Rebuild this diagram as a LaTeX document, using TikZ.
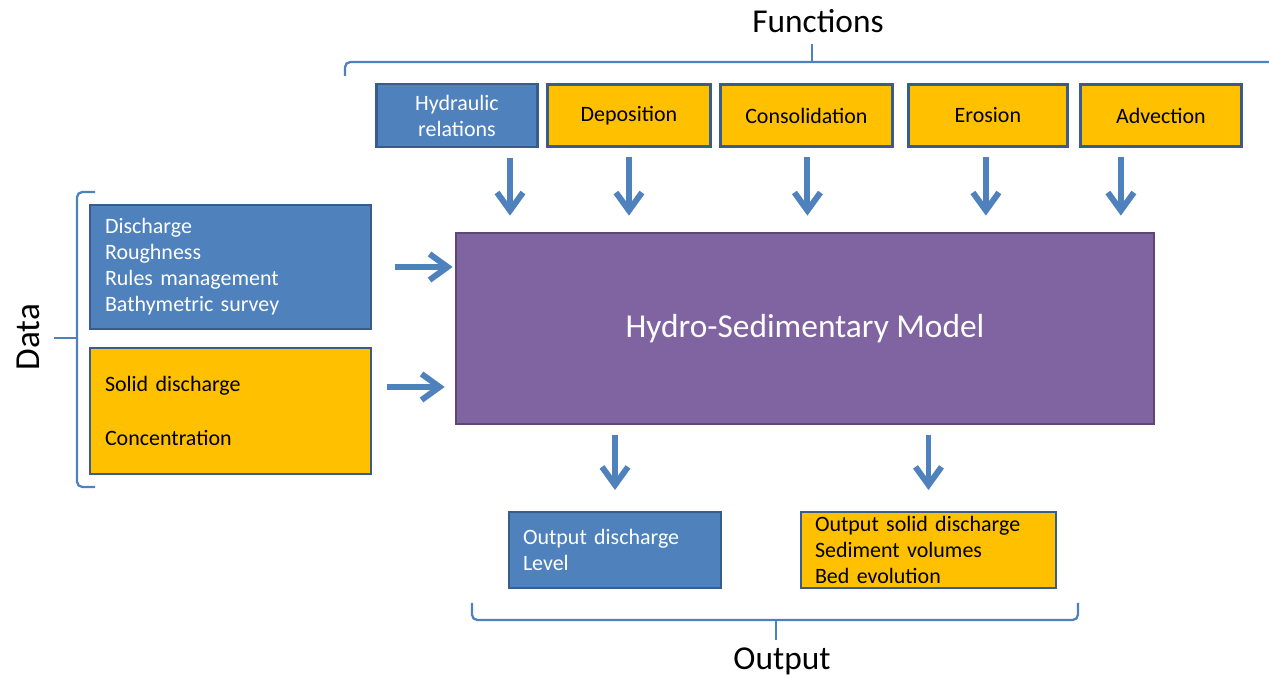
\documentclass[tikz,border=0pt]{standalone}
\usepackage{fontspec}
\setmainfont{Carlito}
\usepackage{tikz}
\usetikzlibrary{positioning,calc,arrows.meta}
\definecolor{boxblue}{HTML}{4F81BD}
\definecolor{boxedge}{HTML}{385D8A}
\definecolor{boxorange}{HTML}{FFC000}
\definecolor{modelpurple}{HTML}{8064A2}
\definecolor{modeledge}{HTML}{5C4776}
\tikzset{
	box/.style={rectangle, draw=boxedge, line width=1.6pt, inner sep=0pt, outer sep=0pt, font=\fontsize{12.5}{14.8}\selectfont},
	bluebox/.style={box, fill=boxblue, text=white},
	yellowbox/.style={box, fill=boxorange, text=black},
	flow/.style={draw=boxblue, line width=3.4pt, -{Straight Barb[length=0.36cm,width=0.52cm]}},
	brace/.style={draw=boxblue, line width=1.3pt, rounded corners=3pt},
	title/.style={font=\fontsize{19}{22}\selectfont}
}
\begin{document}
\begin{tikzpicture}[x=0.02cm, y=-0.02cm]
	\useasboundingbox (0,0) rectangle (1269,678);

	% functions
	\node [bluebox, minimum width=3.22cm, minimum height=1.26cm, align=center] (hyd) at (457,115.5) {Hydraulic\\relations};
	\node [yellowbox, minimum width=3.26cm, minimum height=1.24cm] (dep) [right=0.2cm of hyd] {Deposition};
	\node [yellowbox, minimum width=3.44cm, minimum height=1.24cm] (cons) [right=0.2cm of dep] {Consolidation};
	\node [yellowbox, minimum width=3.18cm, minimum height=1.24cm] (ero) [right=0.32cm of cons] {Erosion};
	\node [yellowbox, minimum width=3.22cm, minimum height=1.24cm] (adv) [right=0.26cm of ero] {Advection};

	% model
	\node [rectangle, draw=modeledge, fill=modelpurple, line width=1.6pt, text=white, minimum width=13.96cm, minimum height=3.82cm, font=\fontsize{19}{22}\selectfont] (model) at (805,328.5) {Hydro-Sedimentary Model};

	% data
	\node [bluebox, text width=5.02cm, inner xsep=0.3cm, minimum height=2.48cm, align=left] (dat) at (230.5,267) {Discharge\\Roughness\\Rules management\\Bathymetric survey};
	\node [yellowbox, text width=5.02cm, inner xsep=0.3cm, minimum height=2.52cm, align=left] (sol) [below=0.38cm of dat] {Solid discharge\\[0.56cm]Concentration};

	% output
	\node [bluebox, text width=3.68cm, inner xsep=0.28cm, minimum height=1.52cm, align=left] (outq) at (615,550) {Output discharge\\Level};
	\node [yellowbox, text width=4.54cm, inner xsep=0.28cm, minimum height=1.52cm, align=left] (outs) at (928.5,550) {Output solid discharge\\Sediment volumes\\Bed evolution};

	% arrows into the model
	\coordinate (hyd arr) at ($(hyd.south)+(53,11)$);
	\coordinate (dep arr) at ($(dep.south)+(0,11)$);
	\coordinate (cons arr) at ($(cons.south)+(1,11)$);
	\coordinate (ero arr) at ($(ero.south)+(-2,11)$);
	\coordinate (adv arr) at ($(adv.south)+(-40,11)$);
	\draw [flow, shorten >=0.32cm] (hyd arr) -- (hyd arr |- model.north);
	\draw [flow, shorten >=0.32cm] (dep arr) -- (dep arr |- model.north);
	\draw [flow, shorten >=0.32cm] (cons arr) -- (cons arr |- model.north);
	\draw [flow, shorten >=0.32cm] (ero arr) -- (ero arr |- model.north);
	\draw [flow, shorten >=0.32cm] (adv arr) -- (adv arr |- model.north);

	\coordinate (dat arr) at ($(dat.east)+(24,0)$);
	\coordinate (sol arr) at ($(sol.east)+(16,-24)$);
	\draw [flow, shorten >=0.04cm] (dat arr) -- (dat arr -| model.west);
	\draw [flow, shorten >=0.2cm] (sol arr) -- (sol arr -| model.west);

	% arrows out of the model
	\draw [flow, shorten <=0.2cm, shorten >=0.44cm] (outq.north |- model.south) -- (outq.north);
	\draw [flow, shorten <=0.2cm, shorten >=0.44cm] (outs.north |- model.south) -- (outs.north);

	% braces
	\node [title] (fun) at (818,21) {Functions};
	\draw [brace] (345,76) -- (345,62) -- (1269,62);
	\draw [brace] (812,62) -- (812,44);

	\node [rotate=90, font=\fontsize{20}{24}\selectfont] (data) at (28,337) {Data};
	\draw [brace] (95,192) -- (77,192) -- (77,487) -- (95,487);
	\draw [brace] (77,338) -- (54,338);

	\node [title] (out) at (782,661) {Output};
	\draw [brace] (472,603) -- (472,620) -- (1078,620) -- (1078,603);
	\draw [brace] (776,620) -- (776,640);
\end{tikzpicture}
\end{document}
